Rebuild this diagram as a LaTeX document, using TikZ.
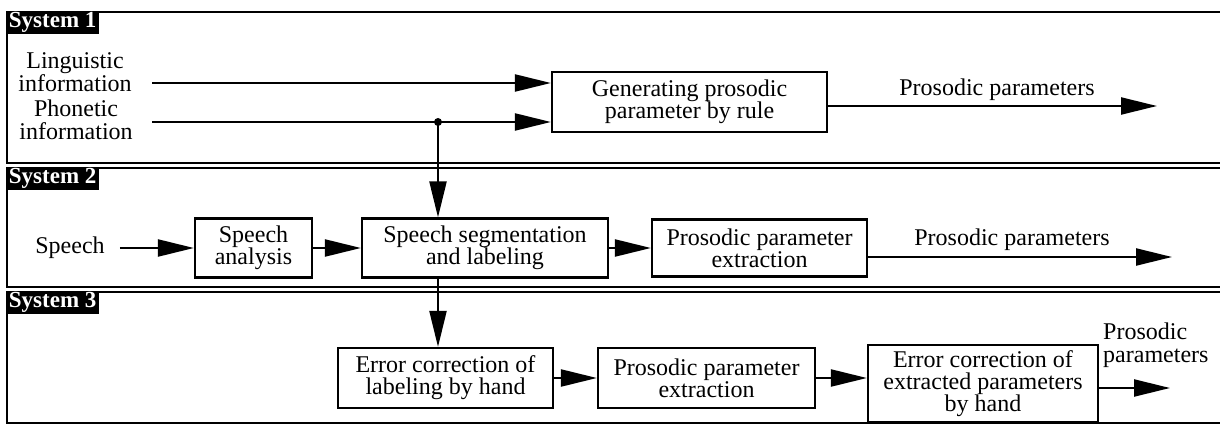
\documentclass[tikz,border=0pt]{standalone}
\usepackage{fontspec}
\setmainfont{Liberation Serif}
\usetikzlibrary{arrows.meta}
\begin{document}
\begin{tikzpicture}[x=1pt,y=-1pt,
  txt/.style={font=\fontsize{24}{22.5}\selectfont, align=center, inner sep=0pt},
  blk/.style={draw, line width=2.2pt, font=\fontsize{24}{22}\selectfont, align=center, inner sep=0pt},
  arr/.style={line width=2.2pt, -{Triangle[length=36pt,width=17pt]}},
  panel/.style={line width=2.6pt},
  syslabel/.style={fill=black, text=white, font=\fontsize{23}{23}\selectfont\bfseries, inner xsep=3pt, inner ysep=0pt, minimum height=23pt, anchor=north west}
]
\useasboundingbox (0,0) rectangle (1220,430);

% panels
\draw[panel] (1220,12) -- (7,12) -- (7,163) -- (1220,163);
\draw[panel] (1220,168) -- (7,168) -- (7,287) -- (1220,287);
\draw[panel] (1220,292) -- (7,292) -- (7,423) -- (1220,423);
\node[syslabel] (s1) at (5.7,10.7) {System 1};
\node[syslabel] (s2) at (5.7,166.7) {System 2};
\node[syslabel] (s3) at (5.7,290.7) {System 3};

% System 1
\node[txt] (ling) at (75,72) {Linguistic\\information};
\node[txt] (phon) at (76,120) {Phonetic\\information};
\node[blk, minimum width=275pt, minimum height=60pt] (gen) at (689.5,102) {Generating prosodic\\parameter by rule};
\coordinate (li) at (152,83);
\coordinate (ph) at (152,122);
\coordinate (dot) at (438,122);
\draw[arr] (li) -- (li -| gen.west);
\draw[arr] (ph) -- (ph -| gen.west);
\fill (dot) circle (4pt);
\coordinate (o1) at (1157,106);
\draw[arr] (gen.east |- o1) -- (o1);
\node[txt] (p1) at (997,90) {Prosodic parameters};

% System 2
\node[txt] (speech) at (70,248) {Speech};
\node[blk, minimum width=117pt, minimum height=59pt] (ana) at (253.5,248) {Speech\\analysis};
\node[blk, minimum width=246pt, minimum height=59pt] (seg) at (485,248) {Speech segmentation\\and labeling};
\node[blk, minimum width=215pt, minimum height=57pt] (ext1) at (759.5,248) {Prosodic parameter\\extraction};
\draw[arr] (dot) -- (dot |- seg.north);
\draw[arr] ([xshift=15pt]speech.east) -- (ana.west);
\draw[arr] (ana.east) -- (seg.west);
\draw[arr] (seg.east) -- (ext1.west);
\coordinate (o2) at (1172,257);
\draw[arr] (ext1.east |- o2) -- (o2);
\node[txt] (p2) at (1012,240) {Prosodic parameters};

% System 3
\node[blk, minimum width=215pt, minimum height=60pt] (err1) at (445.5,378) {Error correction of\\labeling by hand};
\node[blk, minimum width=217pt, minimum height=60pt] (ext2) at (706.5,378) {Prosodic parameter\\extraction};
\node[blk, minimum width=230pt, minimum height=77pt] (err2) at (983,383.5) {Error correction of\\extracted parameters\\by hand};
\draw[arr] (dot |- seg.south) -- (dot |- err1.north);
\draw[arr] (err1.east) -- (ext2.west);
\draw[arr] (ext2.east) -- (ext2.east -| err2.west);
\coordinate (o3) at (1170,388);
\draw[arr] (err2.east |- o3) -- (o3);
\node[txt, align=left, anchor=west] (p3) at (1103,345) {Prosodic\\parameters};
\end{tikzpicture}
\end{document}
